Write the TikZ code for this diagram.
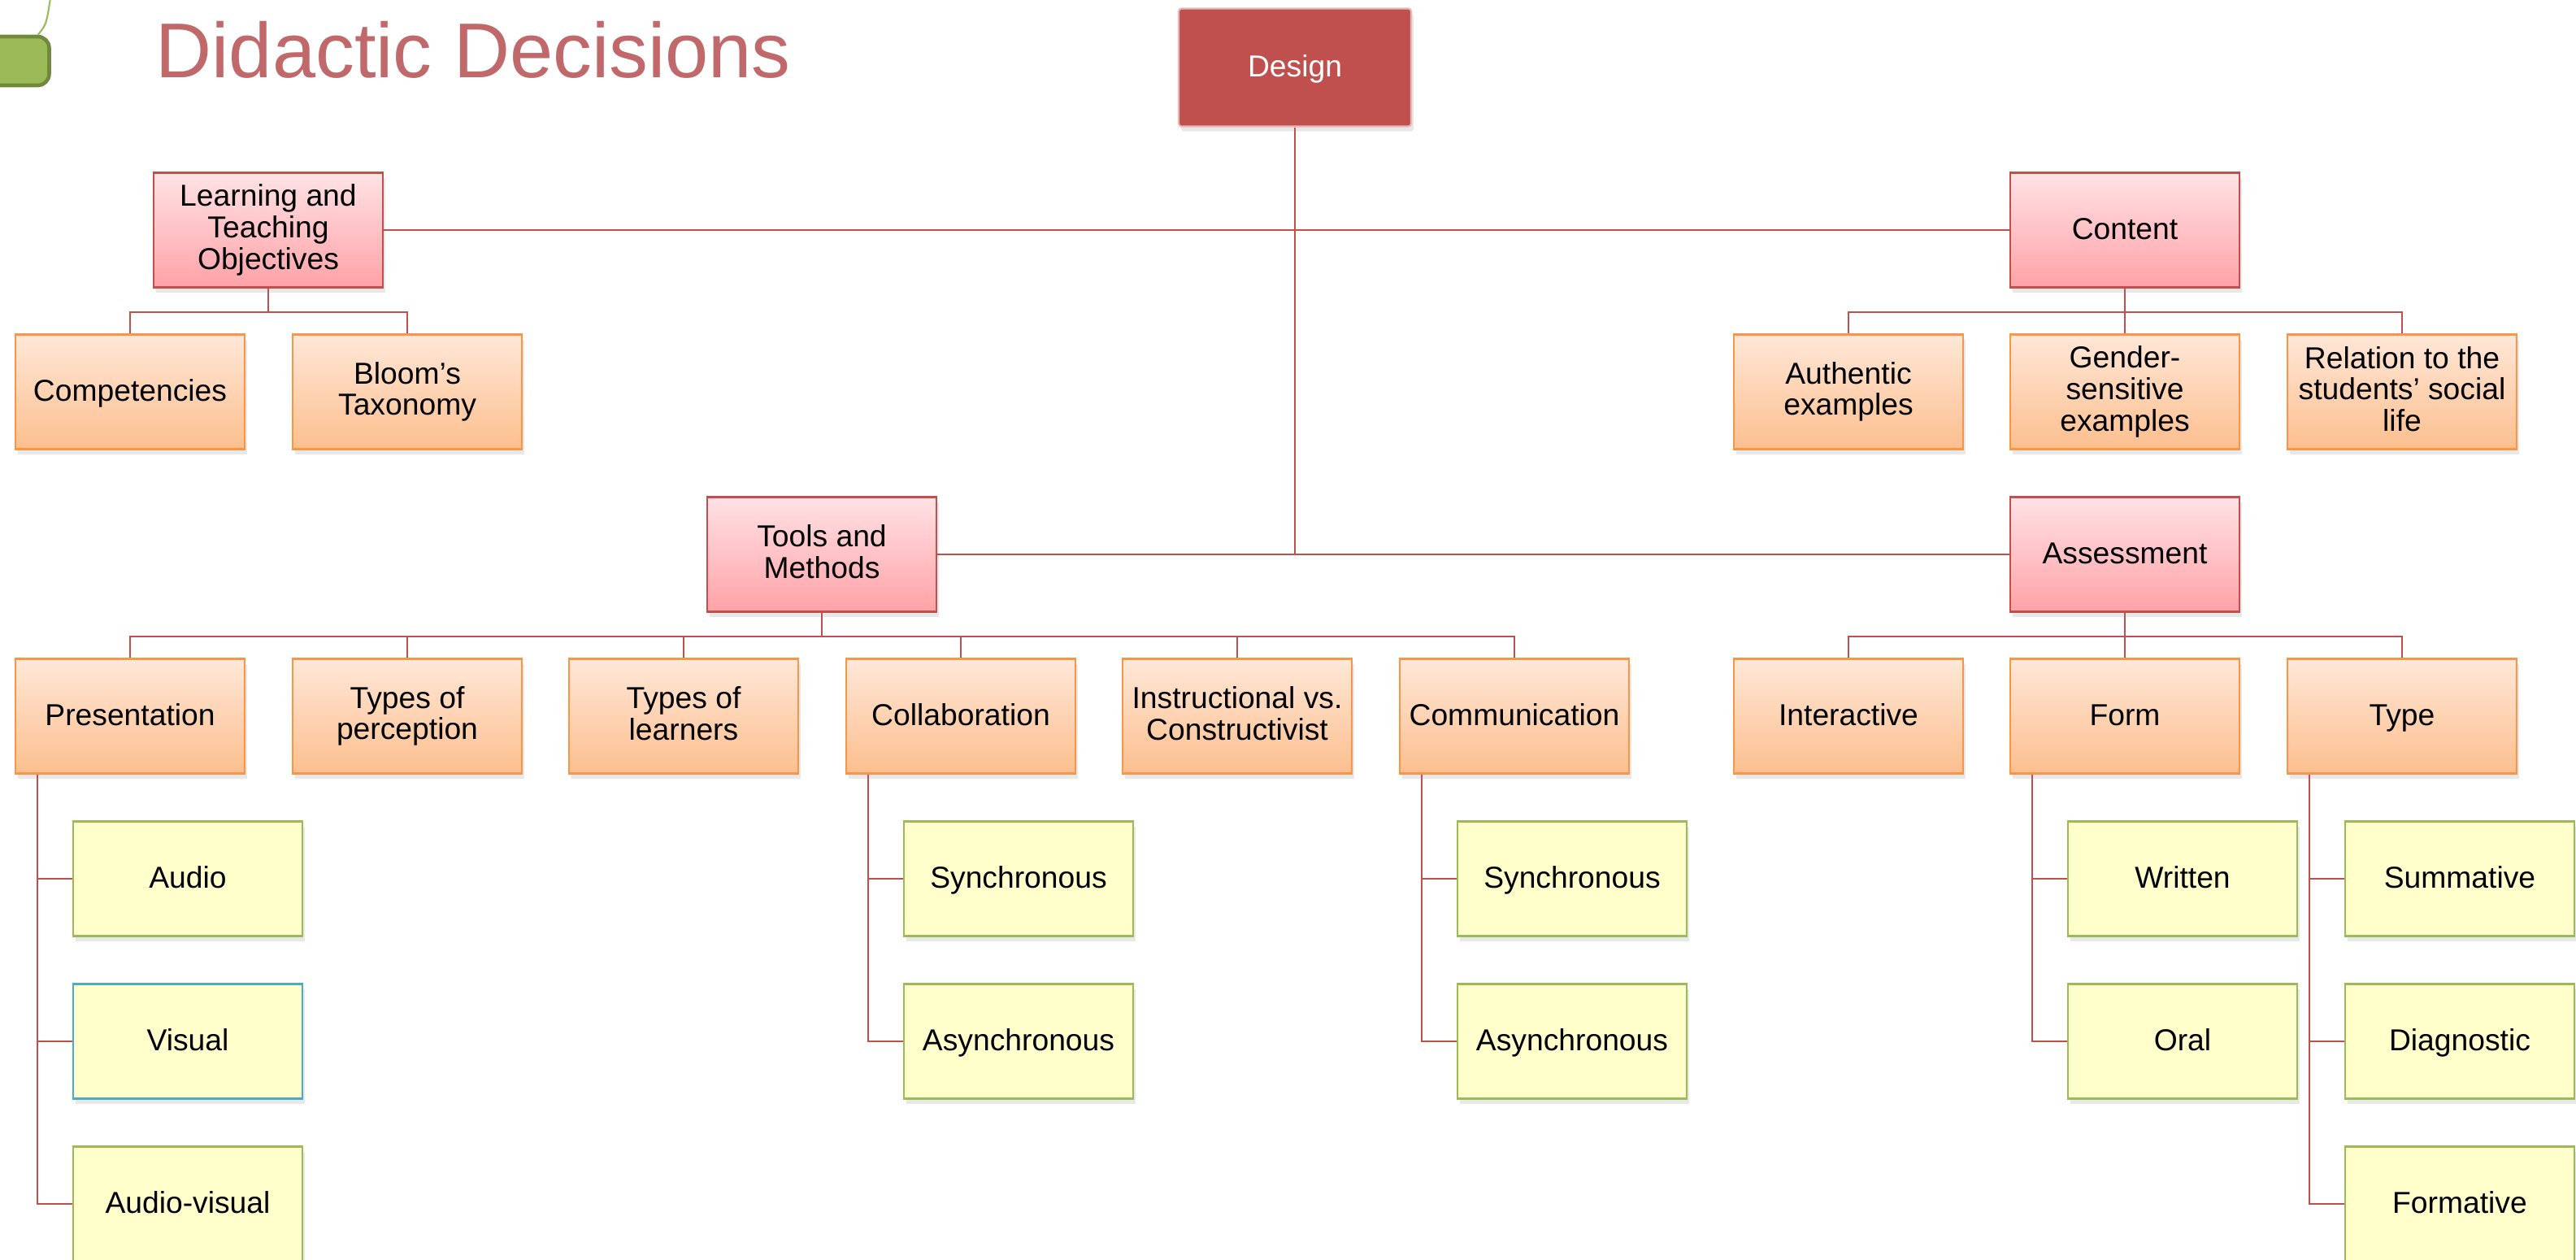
\documentclass[tikz,border=0pt]{standalone}
\usepackage{fontspec}
\setmainfont{Liberation Sans}
\usetikzlibrary{shadows}
\definecolor{designred}{RGB}{192,80,77}
\definecolor{titlered}{RGB}{192,104,106}
\definecolor{pinktop}{RGB}{255,226,229}
\definecolor{pinkbot}{RGB}{255,162,167}
\definecolor{orangetop}{RGB}{255,231,216}
\definecolor{orangebot}{RGB}{252,191,142}
\definecolor{orangeline}{RGB}{247,150,70}
\definecolor{leafgreen}{RGB}{155,187,89}
\definecolor{darkgreen}{RGB}{113,137,63}
\definecolor{paleyellow}{RGB}{255,255,204}
\definecolor{skyblue}{RGB}{75,172,198}
\newcommand{\boxstrut}{\rule[-2.1pt]{0pt}{10.9pt}}

\begin{document}
\begin{tikzpicture}
\tikzstyle{every node}+=[inner sep=0pt, align=center, font=\fontsize{10.6}{11}\selectfont]
\tikzstyle{box}=[rectangle, minimum width=2.82cm, minimum height=1.41cm, line width=0.6pt,
  execute at begin node=\boxstrut, execute at end node=\boxstrut,
  drop shadow={opacity=0.18, shadow xshift=0.3mm, shadow yshift=-0.6mm}]
\tikzstyle{head}=[box, draw=designred, top color=pinktop, bottom color=pinkbot]
\tikzstyle{item}=[box, draw=orangeline, top color=orangetop, bottom color=orangebot]
\tikzstyle{leaf}=[box, draw=leafgreen, fill=paleyellow]
\tikzstyle{link}=[designred, line width=0.6pt]
\useasboundingbox (0,0) rectangle (31.69,-15.49);

% title and tab
\node [draw=darkgreen, line width=1.3pt, fill=leafgreen, rounded corners=4pt,
  minimum width=0.95cm, minimum height=0.6cm] (tab) at (0.13,-0.75) {};
\draw [leafgreen, line width=0.6pt] ([xshift=-0.16cm]tab.north east) .. controls (0.57,-0.3) .. (0.62,0.02);
\node [anchor=base west, text=titlered, font=\fontsize{27.2}{30}\selectfont] (title) at (1.91,-0.95) {Didactic Decisions};

% root
\node [box, fill=designred, draw=designred!40, text=white, rounded corners=1pt,
  minimum width=2.86cm, minimum height=1.45cm] (design) at (15.93,-0.83) {Design};

% main branches
\node [head] (lto) at (3.30,-2.83) {Learning and\\Teaching\\Objectives};
\node [head] (content) at (26.14,-2.83) {Content};
\node [head] (tools) at (10.11,-6.82) {Tools and\\Methods};
\node [head] (assess) at (26.14,-6.82) {Assessment};

% objectives
\node [item] (comp) at (1.60,-4.82) {Competencies};
\node [item] (bloom) at (5.01,-4.82) {Bloom’s\\Taxonomy};

% content
\node [item] (auth) at (22.74,-4.82) {Authentic\\examples};
\node [item] (gender) at (26.14,-4.82) {Gender-\\sensitive\\examples};
\node [item] (relation) at (29.55,-4.82) {Relation to the\\students’ social\\life};

% tools and methods
\node [item] (pres) at (1.60,-8.81) {Presentation};
\node [item] (percep) at (5.01,-8.81) {Types of\\perception};
\node [item] (learners) at (8.41,-8.81) {Types of\\learners};
\node [item] (collab) at (11.82,-8.81) {Collaboration};
\node [item] (instr) at (15.22,-8.81) {Instructional vs.\\Constructivist};
\node [item] (comm) at (18.63,-8.81) {Communication};

% assessment
\node [item] (interact) at (22.74,-8.81) {Interactive};
\node [item] (form) at (26.14,-8.81) {Form};
\node [item] (type) at (29.55,-8.81) {Type};

% leaves
\node [leaf] (audio) at (2.31,-10.81) {Audio};
\node [leaf, draw=skyblue] (visual) at (2.31,-12.81) {Visual};
\node [leaf] (audiovis) at (2.31,-14.81) {Audio-visual};
\node [leaf] (csync) at (12.53,-10.81) {Synchronous};
\node [leaf] (casync) at (12.53,-12.81) {Asynchronous};
\node [leaf] (msync) at (19.34,-10.81) {Synchronous};
\node [leaf] (masync) at (19.34,-12.81) {Asynchronous};
\node [leaf] (written) at (26.85,-10.81) {Written};
\node [leaf] (oral) at (26.85,-12.81) {Oral};
\node [leaf] (summ) at (30.26,-10.81) {Summative};
\node [leaf] (diag) at (30.26,-12.81) {Diagnostic};
\node [leaf] (formative) at (30.26,-14.81) {Formative};

% connectors
\draw [link] (design.south) -- (design.south |- tools.east);
\draw [link] (lto.east) -- (content.west);
\draw [link] (tools.east) -- (assess.west);
\foreach \c in {comp,bloom}
  \draw [link] (lto.south) -- ++(0,-0.29) -| (\c.north);
\foreach \c in {auth,gender,relation}
  \draw [link] (content.south) -- ++(0,-0.29) -| (\c.north);
\foreach \c in {pres,percep,learners,collab,instr,comm}
  \draw [link] (tools.south) -- ++(0,-0.29) -| (\c.north);
\foreach \c in {interact,form,type}
  \draw [link] (assess.south) -- ++(0,-0.29) -| (\c.north);
\foreach \c in {audio,visual,audiovis}
  \draw [link] ([xshift=0.28cm]pres.south west) |- (\c.west);
\foreach \c in {csync,casync}
  \draw [link] ([xshift=0.28cm]collab.south west) |- (\c.west);
\foreach \c in {msync,masync}
  \draw [link] ([xshift=0.28cm]comm.south west) |- (\c.west);
\foreach \c in {written,oral}
  \draw [link] ([xshift=0.28cm]form.south west) |- (\c.west);
\foreach \c in {summ,diag,formative}
  \draw [link] ([xshift=0.28cm]type.south west) |- (\c.west);
\end{tikzpicture}
\end{document}
